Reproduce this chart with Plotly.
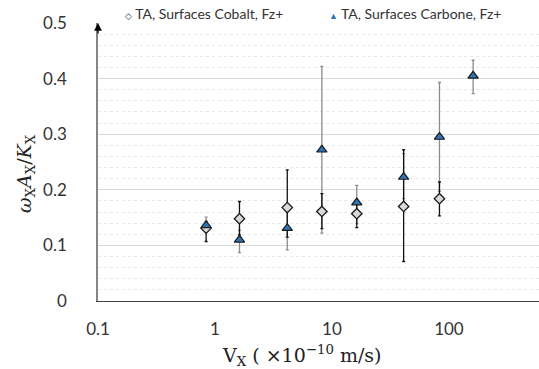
import plotly.graph_objects as go

# ---- data ----
velocity = [0.84, 1.62, 4.15, 8.2, 16.3, 41, 83, 161]

cobalt_y = [0.131, 0.148, 0.168, 0.161, 0.157, 0.170, 0.184]
cobalt_plus = [0.012, 0.031, 0.068, 0.032, 0.025, 0.102, 0.030]
cobalt_minus = [0.024, 0.029, 0.053, 0.031, 0.025, 0.099, 0.031]

carbone_y = [0.136, 0.110, 0.131, 0.272, 0.177, 0.223, 0.295, 0.405]
carbone_plus = [0.015, 0.017, 0.039, 0.150, 0.031, 0.042, 0.098, 0.028]
carbone_minus = [0.012, 0.023, 0.039, 0.150, 0.038, 0.039, 0.098, 0.032]

x_tick_vals = [0.1, 1, 10, 100]
x_tick_text = ["0.1", "1", "10", "100"]
y_tick_vals = [0, 0.1, 0.2, 0.3, 0.4, 0.5]
y_tick_text = ["0", "0.1", "0.2", "0.3", "0.4", "0.5"]

legend_cobalt = "TA, Surfaces Cobalt, Fz+"
legend_carbone = "TA, Surfaces Carbone, Fz+"

BLUE = "#2e75b6"
GREY_ERR = "#8c8c8c"

fig = go.Figure()

# carbone error bars (drawn underneath)
fig.add_trace(go.Scatter(
    x=velocity, y=carbone_y, mode="markers", showlegend=False,
    marker=dict(size=9, color="rgba(0,0,0,0)", line=dict(width=0)),
    error_y=dict(type="data", symmetric=False, array=carbone_plus,
                 arrayminus=carbone_minus, color=GREY_ERR, thickness=1.3, width=1.5),
    hoverinfo="skip",
))

# cobalt series
fig.add_trace(go.Scatter(
    x=velocity[:len(cobalt_y)], y=cobalt_y, mode="markers", name=legend_cobalt,
    showlegend=False,
    marker=dict(symbol="diamond", size=8, color="#d9d9d9",
                line=dict(color="#1a1a1a", width=1.3)),
    error_y=dict(type="data", symmetric=False, array=cobalt_plus,
                 arrayminus=cobalt_minus, color="#111111", thickness=1.3, width=1.5),
))

# carbone markers on top
fig.add_trace(go.Scatter(
    x=velocity, y=carbone_y, mode="markers", name=legend_carbone,
    showlegend=False,
    marker=dict(symbol="triangle-up", size=9, color=BLUE,
                line=dict(color="#1a1a1a", width=1.2)),
))

fig.update_layout(
    width=539, height=369,
    margin=dict(l=98, r=0, t=23, b=68),
    paper_bgcolor="white", plot_bgcolor="white",
    font=dict(family="Lato, sans-serif", color="#333333"),
    xaxis=dict(
        type="log", range=[-1, 2.77],
        tickvals=x_tick_vals, ticktext=x_tick_text,
        tickfont=dict(size=17, color="#333333"),
        showgrid=False, zeroline=False,
        showline=True, linecolor="#404040", linewidth=1.3,
        ticks="", ticklabelstandoff=12,
    ),
    yaxis=dict(
        range=[0, 0.5],
        tickvals=y_tick_vals, ticktext=y_tick_text,
        tickfont=dict(size=17, color="#333333"),
        showgrid=True, gridcolor="#d9d9d9", gridwidth=1,
        minor=dict(dtick=0.02, showgrid=True, gridcolor="#e8e8e8", griddash="dot"),
        zeroline=False,
        showline=True, linecolor="#868686", linewidth=1.5,
        ticks="", ticklabelstandoff=26,
    ),
    annotations=[
        dict(xref="paper", yref="paper", x=(25 - 98) / 441, y=(301 - 174) / 278,
             xanchor="center", yanchor="middle",
             text="<i>ω</i><sub>X</sub><i>A</i><sub>X</sub>/<i>K</i><sub>X</sub>",
             textangle=-90, showarrow=False,
             font=dict(family="DejaVu Serif, serif", size=19, color="#222222")),
        dict(xref="paper", yref="paper", x=(301 - 98) / 441, y=-(355 - 301) / 278,
             xanchor="center", yanchor="middle",
             text="V<sub>X</sub> ( ×10<sup>−10</sup> m/s)", showarrow=False,
             font=dict(family="DejaVu Serif, serif", size=19, color="#222222")),
        # legend
        dict(xref="paper", yref="paper", x=(123 - 98) / 441, y=1 + (23 - 13) / 278,
             xanchor="left", yanchor="middle", showarrow=False,
             text="<span style='font-size:9px;color:#333'>◇</span> " + legend_cobalt,
             font=dict(family="Lato, sans-serif", size=14, color="#333333")),
        dict(xref="paper", yref="paper", x=(327 - 98) / 441, y=1 + (23 - 13) / 278,
             xanchor="left", yanchor="middle", showarrow=False,
             text="<span style='font-size:9px;color:" + BLUE + "'>▲</span> " + legend_carbone,
             font=dict(family="Lato, sans-serif", size=14, color="#333333")),
        # arrow on the y axis
        dict(xref="paper", yref="y", x=0, y=0.5, text="", showarrow=True,
             ax=0, ay=12, arrowhead=2, arrowsize=1.2, arrowwidth=1.3,
             arrowcolor="#000000"),
    ],
)

fig.write_html("out.html", config={"displayModeBar": False},
               post_script="document.body.style.margin='0px';")
